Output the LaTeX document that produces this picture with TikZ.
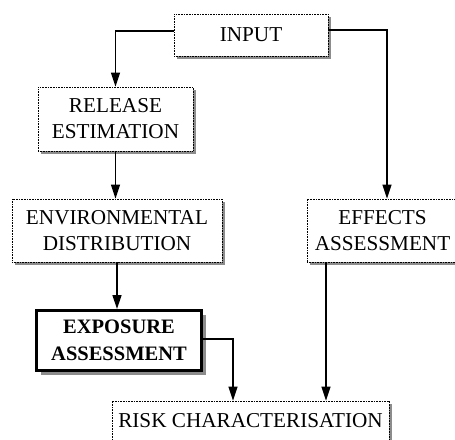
\documentclass[tikz,border=0pt]{standalone}
\usepackage{fontspec}
\setmainfont{Liberation Serif}
\usetikzlibrary{arrows.meta,shadows}
\begin{document}
\begin{tikzpicture}[x=1pt,y=-1pt,
  every node/.style={font=\fontsize{21.2}{26}\selectfont, align=center, inner sep=0pt},
  dotbox/.style={draw=black, line width=0.8pt, dash pattern=on 0.8pt off 0.8pt, fill=white,
    drop shadow={shadow xshift=3pt, shadow yshift=-3pt, fill=black!45, opacity=1}},
  boldbox/.style={draw=black, line width=3pt, fill=white,
    drop shadow={shadow xshift=4pt, shadow yshift=-4pt, fill=black!45, opacity=1}},
  conn/.style={draw=black, line width=1.4pt},
  arr/.style={conn, -{Triangle[width=9pt,length=14pt]}}]
\useasboundingbox (0,0) rectangle (455,439);
\node[dotbox, minimum width=154pt, minimum height=42pt] (inp) at (251,35) {INPUT};
\node[dotbox, minimum width=155pt, minimum height=64pt] (rel) at (115.5,119) {RELEASE\\ESTIMATION};
\node[dotbox, minimum width=210pt, minimum height=63pt] (env) at (117,230.5) {ENVIRONMENTAL\\DISTRIBUTION};
\node[dotbox, minimum width=151pt, minimum height=63pt] (eff) at (382.5,230.5) {EFFECTS\\ASSESSMENT};
\node[boldbox, minimum width=165pt, minimum height=60pt, font=\fontsize{20.5}{27}\selectfont\bfseries] (exp) at (119,340.5) {EXPOSURE\\ASSESSMENT};
\node[dotbox, minimum width=277pt, minimum height=40pt] (risk) at (250.5,421) {RISK CHARACTERISATION};
\draw[arr] ([yshift=4pt]inp.west) -| (rel.north);
\draw[arr] ([yshift=5pt]inp.east) -| ([xshift=4.5pt]eff.north);
\draw[arr] (rel.south) -- (rel.south |- env.north);
\draw[arr] (env.south) -- (env.south |- exp.north);
\draw[arr] ([yshift=1.5pt]exp.east) -| ([xshift=-17.5pt]risk.north);
\draw[arr] ([xshift=-56.5pt]eff.south) -- ([xshift=-56.5pt]eff.south |- risk.north);
\end{tikzpicture}
\end{document}
